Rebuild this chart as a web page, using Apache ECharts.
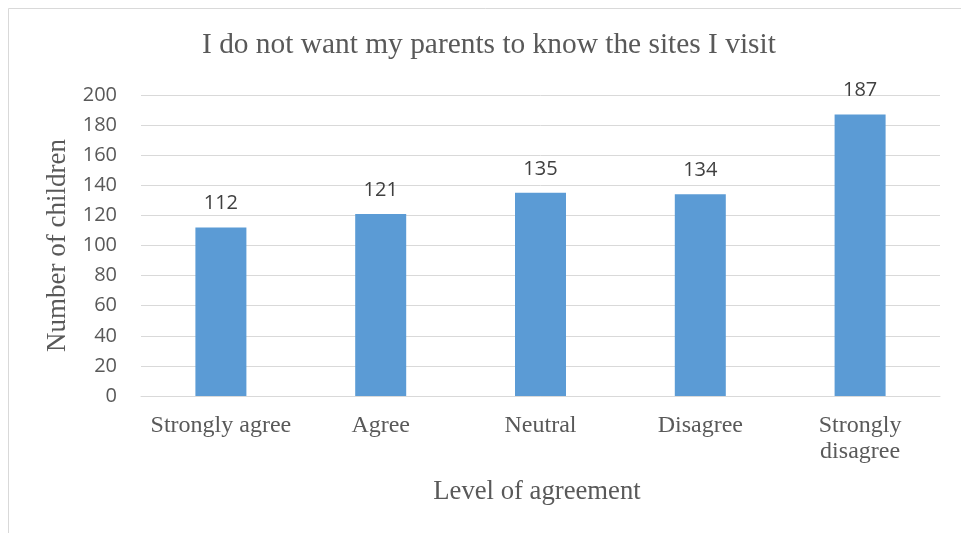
<!DOCTYPE html>
<html>
<head>
<meta charset="utf-8">
<script src="https://cdn.jsdelivr.net/npm/echarts@6/dist/echarts.min.js"></script>
<style>
  html, body { margin: 0; padding: 0; background: #fff; }
  #chart { width: 961px; height: 533px; }
</style>
</head>
<body>
<div id="chart"></div>
<script>
// Survey responses by level of agreement
const categories = ['Strongly agree', 'Agree', 'Neutral', 'Disagree', 'Strongly\ndisagree'];
const counts = [112, 121, 135, 134, 187];
const yTicks = { min: 0, max: 200, interval: 20 };

const serif = '"Liberation Serif", "Times New Roman", serif';
const sans = '"Open Sans", "Liberation Sans", sans-serif';

const chart = echarts.init(document.getElementById('chart'), null, { renderer: 'canvas' });

chart.setOption({
  animation: false,
  backgroundColor: '#ffffff',
  title: {
    text: 'I do not want my parents to know the sites I visit',
    left: 197,
    top: 26,
    textStyle: { fontFamily: serif, fontSize: 29.4, fontWeight: 'normal', color: '#595959' }
  },
  graphic: [{
    type: 'polyline',
    shape: { points: [[8.5, 540], [8.5, 8.5], [970, 8.5]] },
    style: { stroke: '#d9d9d9', lineWidth: 1, fill: null },
    silent: true
  }],
  grid: { left: 141, right: 21, top: 95, bottom: 137 },
  xAxis: {
    type: 'category',
    data: categories,
    name: 'Level of agreement',
    nameLocation: 'middle',
    nameGap: 82,
    nameTextStyle: { fontFamily: serif, fontSize: 26.7, color: '#595959', padding: [0, 7, 0, 0] },
    axisLine: { lineStyle: { color: '#d9d9d9', width: 1 } },
    axisTick: { show: false },
    axisLabel: {
      fontFamily: serif, fontSize: 24, color: '#595959',
      margin: 17, lineHeight: 26, interval: 0
    }
  },
  yAxis: {
    type: 'value',
    min: yTicks.min,
    max: yTicks.max,
    interval: yTicks.interval,
    name: 'Number of children',
    nameLocation: 'middle',
    nameGap: 68,
    nameTextStyle: { fontFamily: serif, fontSize: 27, color: '#595959' },
    axisLine: { show: false },
    axisTick: { show: false },
    axisLabel: { fontFamily: sans, fontSize: 20, color: '#595959', margin: 24 },
    splitLine: { lineStyle: { color: '#d9d9d9', width: 1 } }
  },
  series: [{
    type: 'bar',
    data: counts,
    barWidth: 51,
    itemStyle: { color: '#5b9bd5' },
    label: {
      show: true,
      position: 'top',
      distance: 14,
      fontFamily: sans,
      fontSize: 20,
      color: '#404040'
    }
  }]
});
</script>
</body>
</html>
